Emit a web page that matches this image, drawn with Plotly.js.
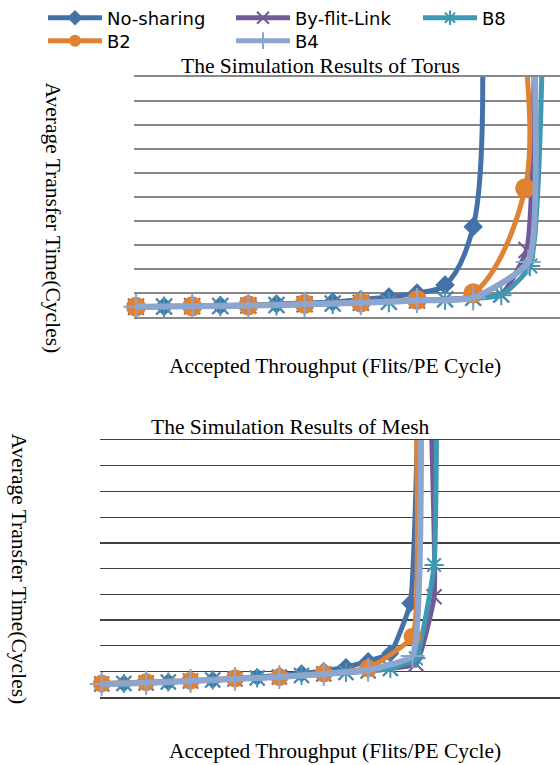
<!DOCTYPE html>
<html>
<head>
<meta charset="utf-8">
<script src="https://cdn.plot.ly/plotly-3.0.1.min.js"></script>
<style>
  html, body { margin: 0; padding: 0; background: #ffffff; }
  #chart { width: 560px; height: 765px; }
</style>
</head>
<body>
<div id="chart"></div>
<script>
// Series names (legend order)
const seriesNames = ['No-sharing', 'By-flit-Link', 'B8', 'B2', 'B4'];

// ---- Torus: accepted throughput (flits/PE/cycle) vs. average transfer time (cycles)
const torusNoSharingX = [0.02, 0.04, 0.06, 0.08, 0.10, 0.12, 0.14, 0.16, 0.18, 0.20, 0.22, 0.24, 0.26, 0.2666];
const torusNoSharingY = [20.4, 20.8, 21.9, 22.9, 24.0, 26.0, 28.1, 30.2, 35.4, 40.6, 49.0, 65.6, 187, 580];

const torusByFlitX = [0.02, 0.04, 0.06, 0.08, 0.10, 0.12, 0.14, 0.16, 0.18, 0.20, 0.22, 0.24, 0.26, 0.28, 0.298, 0.3036];
const torusByFlitY = [20.4, 20.8, 21.3, 21.9, 22.9, 24.0, 25.4, 27.1, 28.7, 30.8, 33.3, 35.8, 39.0, 45.8, 138.5, 580];

const torusB8X = [0.02, 0.04, 0.06, 0.08, 0.10, 0.12, 0.14, 0.16, 0.18, 0.20, 0.22, 0.24, 0.26, 0.28, 0.3004, 0.3094];
const torusB8Y = [19.8, 20.4, 21.0, 21.6, 22.5, 23.5, 24.8, 26.4, 28.0, 30.0, 32.5, 35.0, 38.0, 44.5, 105.2, 580];

const torusB2X = [0.02, 0.06, 0.10, 0.14, 0.18, 0.22, 0.26, 0.297, 0.2959];
const torusB2Y = [20.4, 21.2, 23.3, 26.0, 29.2, 34.4, 48.3, 267, 580];

const torusB4X = [0.02, 0.06, 0.10, 0.14, 0.18, 0.22, 0.26, 0.2992, 0.3033];
const torusB4Y = [20.4, 21.3, 22.9, 25.4, 28.7, 33.3, 39.0, 113.5, 580];

// ---- Mesh
const meshNoSharingX = [0.01, 0.02, 0.03, 0.04, 0.05, 0.06, 0.07, 0.08, 0.09, 0.10, 0.11, 0.12, 0.13, 0.14, 0.149, 0.1526];
const meshNoSharingY = [25.8, 26.8, 27.8, 29.7, 31.7, 33.6, 36.5, 39.4, 42.4, 46.3, 51.1, 58.9, 70.5, 85.5, 182.7, 580];

const meshByFlitX = [0.01, 0.02, 0.03, 0.04, 0.05, 0.06, 0.07, 0.08, 0.09, 0.10, 0.11, 0.12, 0.13, 0.14, 0.1516, 0.1597, 0.1581];
const meshByFlitY = [25.8, 26.8, 27.8, 29.7, 31.7, 33.6, 35.6, 37.5, 39.4, 42.4, 45.3, 48.2, 51.1, 56.0, 64.7, 195.5, 580];

const meshB8X = [0.01, 0.02, 0.03, 0.04, 0.05, 0.06, 0.07, 0.08, 0.09, 0.10, 0.11, 0.12, 0.13, 0.14, 0.1515, 0.1597, 0.1609];
const meshB8Y = [25.8, 26.8, 27.8, 29.7, 31.7, 33.6, 35.6, 37.5, 39.4, 42.4, 45.3, 48.2, 51.1, 56.0, 75.8, 257.1, 580];

const meshB2X = [0.01, 0.03, 0.05, 0.07, 0.09, 0.11, 0.13, 0.15, 0.1515];
const meshB2Y = [26.8, 29.7, 32.3, 36.9, 39.4, 46.6, 56.4, 117.8, 580];

const meshB4X = [0.01, 0.03, 0.05, 0.07, 0.09, 0.11, 0.13, 0.15, 0.1538];
const meshB4Y = [25.8, 27.8, 31.7, 35.6, 39.4, 45.3, 53.1, 80.3, 580];

// ---- Styling
const W = 560, H = 765;
const fx = v => v / W;          // pixel -> paper x
const fy = v => 1 - v / H;      // pixel -> paper y
const Y_MAX = 500;

const styles = {
  'No-sharing':   { color: '#4471A8', symbol: 'diamond',         size: 15, lw: 5, mlw: 0 },
  'By-flit-Link': { color: '#725A99', symbol: 'x-thin-open',     size: 16, lw: 5, mlw: 2 },
  'B8':           { color: '#3E9AB3', symbol: 'asterisk-open',   size: 17, lw: 5, mlw: 2 },
  'B2':           { color: '#E08233', symbol: 'circle',          size: 20, lw: 5, mlw: 0 },
  'B4':           { color: '#8DA6CF', symbol: 'cross-thin-open', size: 18, lw: 6, mlw: 2 }
};

// spline tension per subplot and series (tighter knees where the curves turn sharply)
const torusSmoothing = { 'No-sharing': 1, 'By-flit-Link': 0.5, 'B8': 0.5, 'B2': 1, 'B4': 0.5 };
const meshSmoothing  = { 'No-sharing': 0.35, 'By-flit-Link': 0.35, 'B8': 0.35, 'B2': 0.35, 'B4': 0.35 };

// one legend box per entry: [legend id, left x px, row centre y px]
const legendSlots = {
  'No-sharing':   ['legend',  43, 18],
  'By-flit-Link': ['legend2', 231, 18],
  'B8':           ['legend3', 418, 18],
  'B2':           ['legend4', 43, 41],
  'B4':           ['legend5', 231, 41]
};

function makeTrace(name, xs, ys, xa, ya, showLegend, markerScale, smoothing) {
  const s = styles[name];
  const sz = Math.round(s.size * markerScale);
  return {
    type: 'scatter',
    mode: 'lines+markers',
    name: name,
    x: xs,
    y: ys,
    xaxis: xa,
    yaxis: ya,
    cliponaxis: false,
    showlegend: showLegend,
    legend: legendSlots[name][0],
    line: { color: s.color, width: s.lw, shape: 'spline', smoothing: smoothing, simplify: false },
    marker: {
      symbol: s.symbol,
      color: s.color,
      opacity: 1,
      // points past the top of the plot carry no marker
      size: ys.map(v => (v > Y_MAX ? 0 : sz)),
      line: { color: s.color, width: s.mlw }
    },
    hoverinfo: 'x+y+name'
  };
}

const torusData = {
  'No-sharing':   [torusNoSharingX, torusNoSharingY],
  'By-flit-Link': [torusByFlitX, torusByFlitY],
  'B8':           [torusB8X, torusB8Y],
  'B2':           [torusB2X, torusB2Y],
  'B4':           [torusB4X, torusB4Y]
};
const meshData = {
  'No-sharing':   [meshNoSharingX, meshNoSharingY],
  'By-flit-Link': [meshByFlitX, meshByFlitY],
  'B8':           [meshB8X, meshB8Y],
  'B2':           [meshB2X, meshB2Y],
  'B4':           [meshB4X, meshB4Y]
};

const traces = [];
seriesNames.forEach(n => traces.push(
  makeTrace(n, torusData[n][0], torusData[n][1], 'x', 'y', true, 1, torusSmoothing[n])));
seriesNames.forEach(n => traces.push(
  makeTrace(n, meshData[n][0], meshData[n][1], 'x2', 'y2', false, 0.92, meshSmoothing[n])));

const serif = 'Liberation Serif, Times New Roman, serif';
const titleFont = { family: serif, size: 21.5, color: '#000000' };

function hiddenX(domain, range, anchor, lineColor, lineWidth) {
  return {
    domain: domain, range: range, anchor: anchor,
    showgrid: false, zeroline: false, showticklabels: false, ticks: '',
    showline: true, mirror: true, linecolor: lineColor, linewidth: lineWidth,
    fixedrange: true
  };
}
function gridY(domain, anchor, gridColor, gridWidth) {
  return {
    domain: domain, range: [0, Y_MAX], anchor: anchor,
    tick0: 0, dtick: 50,
    showgrid: true, gridcolor: gridColor, gridwidth: gridWidth,
    zeroline: false, showticklabels: false, ticks: '', showline: false,
    fixedrange: true
  };
}

const layout = {
  width: W,
  height: H,
  margin: { l: 0, r: 0, t: 0, b: 0, autoexpand: false },
  paper_bgcolor: '#ffffff',
  plot_bgcolor: 'rgba(0,0,0,0)',
  showlegend: true,
  xaxis:  hiddenX([fx(134), 1], [0.01858, 0.3218], 'y', '#888888', 2),
  yaxis:  gridY([fy(316.5), fy(76.5)], 'x', '#888888', 2),
  xaxis2: hiddenX([fx(100), 1], [0.00923, 0.2164], 'y2', '#404040', 1.3),
  yaxis2: gridY([fy(697.3), fy(440)], 'x2', '#404040', 1.3),
  annotations: [
    { text: 'The Simulation Results of Torus', x: fx(320.5), y: fy(66), xref: 'paper', yref: 'paper',
      xanchor: 'center', yanchor: 'middle', showarrow: false, font: titleFont },
    { text: 'Average Transfer Time(Cycles)', x: fx(53), y: fy(217.5), xref: 'paper', yref: 'paper',
      xanchor: 'center', yanchor: 'middle', textangle: 90, showarrow: false, font: titleFont },
    { text: 'Accepted Throughput (Flits/PE Cycle)', x: fx(334.5), y: fy(366), xref: 'paper', yref: 'paper',
      xanchor: 'center', yanchor: 'middle', showarrow: false, font: titleFont },
    { text: 'The Simulation Results of Mesh', x: fx(290.5), y: fy(427), xref: 'paper', yref: 'paper',
      xanchor: 'center', yanchor: 'middle', showarrow: false, font: titleFont },
    { text: 'Average Transfer Time(Cycles)', x: fx(19), y: fy(568.5), xref: 'paper', yref: 'paper',
      xanchor: 'center', yanchor: 'middle', textangle: 90, showarrow: false, font: titleFont },
    { text: 'Accepted Throughput (Flits/PE Cycle)', x: fx(334.5), y: fy(751), xref: 'paper', yref: 'paper',
      xanchor: 'center', yanchor: 'middle', showarrow: false, font: titleFont }
  ]
};

Object.keys(legendSlots).forEach(n => {
  const slot = legendSlots[n];
  layout[slot[0]] = {
    orientation: 'h',
    x: fx(slot[1]), y: fy(slot[2]),
    xanchor: 'left', yanchor: 'middle',
    itemwidth: 54,
    itemsizing: 'constant',
    bgcolor: 'rgba(0,0,0,0)',
    font: { family: 'DejaVu Sans, sans-serif', size: 18, color: '#000000' }
  };
});

Plotly.newPlot('chart', traces, layout, { staticPlot: true, displayModeBar: false });
</script>
</body>
</html>
